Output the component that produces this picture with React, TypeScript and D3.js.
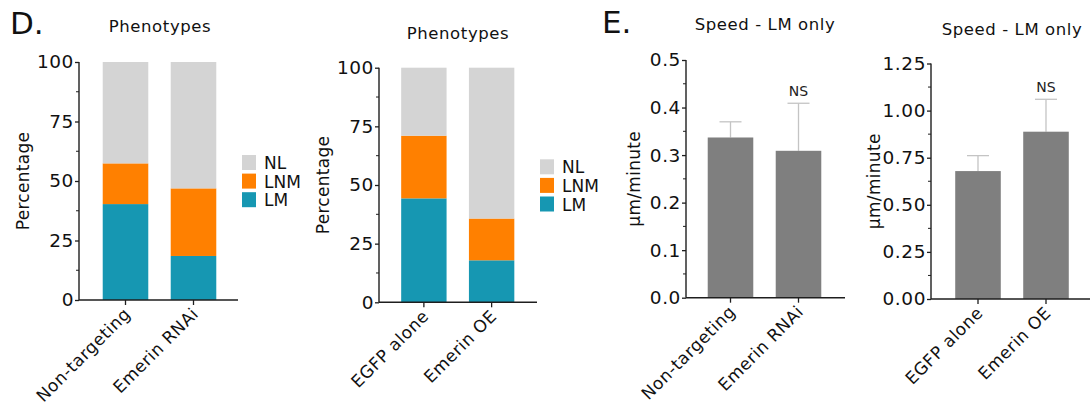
import React, { useEffect, useRef } from 'react';
import * as d3 from 'd3';

// phenotype panels (percent of cells)
const phenoCatsA = ['Non-targeting', 'Emerin RNAi'];
const lmA = [40.3, 18.5];
const lnmA = [17.1, 28.4];
const nlA = [42.6, 53.1];

const phenoCatsB = ['EGFP alone', 'Emerin OE'];
const lmB = [44.3, 17.9];
const lnmB = [26.7, 17.8];
const nlB = [29.0, 64.3];

const pctTicks = [0, 25, 50, 75, 100];
const legendKeys = ['NL', 'LNM', 'LM'];

// speed panels (um/minute, mean + error)
const speedCatsA = ['Non-targeting', 'Emerin RNAi'];
const speedA = [0.337, 0.309];
const speedErrA = [0.033, 0.1];
const speedTicksA = [0, 0.1, 0.2, 0.3, 0.4, 0.5];

const speedCatsB = ['EGFP alone', 'Emerin OE'];
const speedB = [0.679, 0.888];
const speedErrB = [0.082, 0.172];
const speedTicksB = [0, 0.25, 0.5, 0.75, 1.0, 1.25];

const colors: Record<string, string> = { NL: '#d4d4d4', LNM: '#ff8000', LM: '#1697b2' };
const font = '"DejaVu Sans", Verdana, sans-serif';
const axisColor = '#1e1e1e';

type Frame = {
  left: number; right: number; y0: number; y1: number;
  bandLeft: number; bandRight: number;
};

function drawFrame(g: any, f: Frame, cats: string[], max: number, ticks: number[], fmt: (d: number) => string, ylabel: string, ylabelX: number) {
  const y = d3.scaleLinear().domain([0, max]).range([f.y0, f.y1]);
  const x = d3.scaleBand<string>().domain(cats).range([f.bandLeft, f.bandRight]).paddingInner(0.33).paddingOuter(0.165);

  // minor ticks
  const minor = d3.pairs(ticks).map(([a, b]) => (a + b) / 2);
  g.selectAll('.minor').data(minor).enter().append('line')
    .attr('x1', f.left - 3).attr('x2', f.left)
    .attr('y1', (d: number) => y(d)).attr('y2', (d: number) => y(d))
    .attr('stroke', axisColor).attr('stroke-width', 1);

  const ax = g.append('g').attr('transform', `translate(${f.left},0)`)
    .call(d3.axisLeft(y).tickValues(ticks).tickFormat(fmt as any).tickSize(4).tickPadding(1));
  ax.select('.domain').remove();
  ax.selectAll('line').attr('stroke', axisColor).attr('stroke-width', 1.3);
  ax.selectAll('text').attr('font-family', font).attr('font-size', 18.5)
    .attr('letter-spacing', 0.6).attr('fill', '#111');

  g.append('line').attr('x1', f.left).attr('x2', f.left).attr('y1', f.y1).attr('y2', f.y0)
    .attr('stroke', axisColor).attr('stroke-width', 1.4);
  g.append('line').attr('x1', f.left).attr('x2', f.right).attr('y1', f.y0).attr('y2', f.y0)
    .attr('stroke', axisColor).attr('stroke-width', 1.4);

  cats.forEach((c) => {
    const cx = x(c)! + x.bandwidth() / 2;
    g.append('line').attr('x1', cx).attr('x2', cx).attr('y1', f.y0).attr('y2', f.y0 + 5)
      .attr('stroke', axisColor).attr('stroke-width', 1.3);
    g.append('text')
      .attr('transform', `translate(${cx + 6},${f.y0 + 15}) rotate(-45)`)
      .attr('text-anchor', 'end').attr('font-family', font).attr('font-size', 17)
      .attr('letter-spacing', 0.5).attr('fill', '#111').text(c);
  });

  g.append('text')
    .attr('transform', `translate(${ylabelX},${(f.y0 + f.y1) / 2}) rotate(-90)`)
    .attr('text-anchor', 'middle').attr('font-family', font).attr('font-size', 17)
    .attr('letter-spacing', 0.3).attr('fill', '#111').text(ylabel);

  return { x, y };
}

function drawStacked(svg: any, f: Frame, cats: string[], lm: number[], lnm: number[], nl: number[], title: string, titleX: number, titleY: number, legendX: number, legendY: number) {
  const g = svg.append('g');
  const rows = cats.map((c, i) => ({ cat: c, LM: lm[i], LNM: lnm[i], NL: nl[i] }));
  const y = d3.scaleLinear().domain([0, 100]).range([f.y0, f.y1]);
  const x = d3.scaleBand<string>().domain(cats).range([f.bandLeft, f.bandRight]).paddingInner(0.33).paddingOuter(0.165);
  const stack = d3.stack<any>().keys(['LM', 'LNM', 'NL'])(rows);
  stack.forEach((layer) => {
    g.selectAll(null).data(layer).enter().append('rect')
      .attr('x', (d: any) => x(d.data.cat)!)
      .attr('width', x.bandwidth())
      .attr('y', (d: any) => y(d[1]))
      .attr('height', (d: any) => y(d[0]) - y(d[1]))
      .attr('fill', colors[layer.key]);
  });
  drawFrame(g, f, cats, 100, pctTicks, d3.format('d'), 'Percentage', f.left - 50);

  g.append('text').attr('x', titleX).attr('y', titleY).attr('text-anchor', 'middle')
    .attr('font-family', font).attr('font-size', 16.5).attr('letter-spacing', 0.6).attr('fill', '#111').text(title);

  legendKeys.forEach((k, i) => {
    const ly = legendY + i * 18.6;
    g.append('rect').attr('x', legendX).attr('y', ly).attr('width', 14).attr('height', 15).attr('fill', colors[k]);
    g.append('text').attr('x', legendX + 22).attr('y', ly + 14).attr('font-family', font)
      .attr('font-size', 17).attr('fill', '#111').text(k);
  });
}

function drawSpeed(svg: any, f: Frame, cats: string[], vals: number[], errs: number[], max: number, ticks: number[], fmt: (d: number) => string, title: string, titleX: number, titleY: number, ylabelX: number) {
  const g = svg.append('g');
  const y = d3.scaleLinear().domain([0, max]).range([f.y0, f.y1]);
  const x = d3.scaleBand<string>().domain(cats).range([f.bandLeft, f.bandRight]).paddingInner(0.33).paddingOuter(0.165);

  cats.forEach((c, i) => {
    const cx = x(c)! + x.bandwidth() / 2;
    g.append('line').attr('x1', cx).attr('x2', cx).attr('y1', y(vals[i])).attr('y2', y(vals[i] + errs[i]))
      .attr('stroke', '#c4c4c4').attr('stroke-width', 1.3);
    g.append('line').attr('x1', cx - 11).attr('x2', cx + 11).attr('y1', y(vals[i] + errs[i])).attr('y2', y(vals[i] + errs[i]))
      .attr('stroke', '#c4c4c4').attr('stroke-width', 1.3);
  });
  g.selectAll(null).data(vals).enter().append('rect')
    .attr('x', (_: number, i: number) => x(cats[i])!)
    .attr('width', x.bandwidth())
    .attr('y', (d: number) => y(d))
    .attr('height', (d: number) => f.y0 - y(d))
    .attr('fill', '#7f7f7f');

  drawFrame(g, f, cats, max, ticks, fmt, 'µm/minute', ylabelX);

  const c2 = cats[1];
  g.append('text').attr('x', x(c2)! + x.bandwidth() / 2).attr('y', y(vals[1] + errs[1]) - 7)
    .attr('text-anchor', 'middle').attr('font-family', font).attr('font-size', 14).attr('fill', '#222').text('NS');

  g.append('text').attr('x', titleX).attr('y', titleY).attr('text-anchor', 'middle')
    .attr('font-family', font).attr('font-size', 16.5).attr('letter-spacing', 0.6).attr('fill', '#111').text(title);
}

const App = () => {
  const ref = useRef<SVGSVGElement>(null);

  useEffect(() => {
    const svg = d3.select(ref.current);
    svg.selectAll('*').remove();

    svg.append('text').attr('x', 10).attr('y', 34).attr('font-family', font).attr('font-size', 31).attr('fill', '#111').text('D.');
    svg.append('text').attr('x', 602).attr('y', 33).attr('font-family', font).attr('font-size', 31).attr('fill', '#111').text('E.');

    drawStacked(svg, { left: 79, right: 238, y0: 300, y1: 62, bandLeft: 91.5, bandRight: 227.5 },
      phenoCatsA, lmA, lnmA, nlA, 'Phenotypes', 160, 32, 242, 155);
    drawStacked(svg, { left: 379, right: 537, y0: 302.3, y1: 67.7, bandLeft: 390, bandRight: 525.5 },
      phenoCatsB, lmB, lnmB, nlB, 'Phenotypes', 458, 39, 540, 159.3);

    drawSpeed(svg, { left: 686, right: 845, y0: 297.7, y1: 60, bandLeft: 696.5, bandRight: 832.5 },
      speedCatsA, speedA, speedErrA, 0.5, speedTicksA, d3.format('.1f'), 'Speed - LM only', 765, 30, 640);
    drawSpeed(svg, { left: 931, right: 1090, y0: 299, y1: 63.5, bandLeft: 944, bandRight: 1080 },
      speedCatsB, speedB, speedErrB, 1.25, speedTicksB, d3.format('.2f'), 'Speed - LM only', 1012, 35, 880);

    return () => { svg.selectAll('*').remove(); };
  }, []);

  return (
    <svg ref={ref} width={1091} height={409}
      style={{ position: 'absolute', left: 0, top: 0, background: '#fff' }} />
  );
};

export default App;
